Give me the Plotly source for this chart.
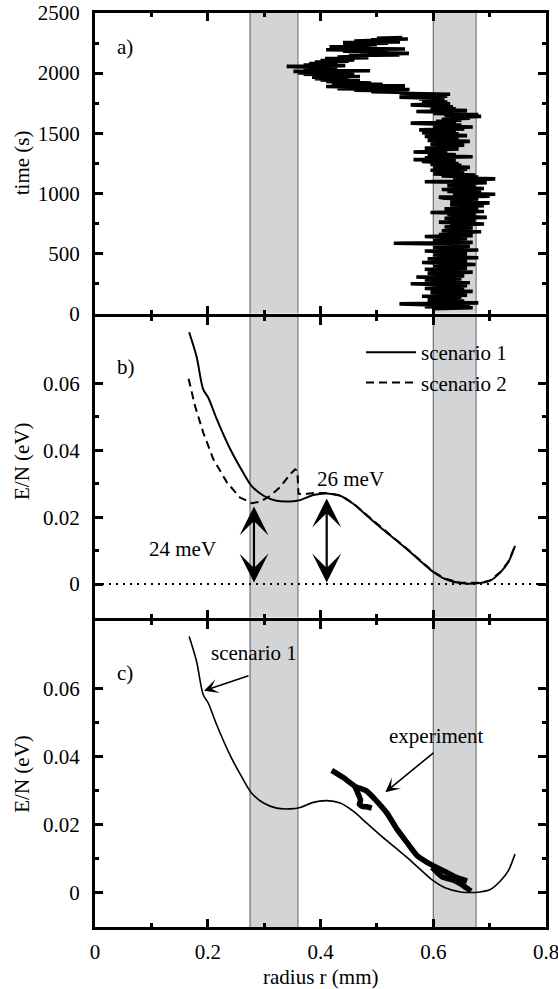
import plotly.graph_objects as go
from plotly.subplots import make_subplots

# ---------------- data ----------------
# panel a: time trace of the radius, (time s, radius mm)
trace_a = [
    (40, 0.60), (48, 0.67), (56, 0.585), (64, 0.665), (72, 0.60), (80, 0.54), (88, 0.68), (96, 0.60),
    (104, 0.655), (112, 0.59), (120, 0.64), (128, 0.605), (136, 0.65), (144, 0.58), (152, 0.66), (160, 0.615),
    (168, 0.645), (176, 0.595), (184, 0.67), (192, 0.60), (200, 0.655), (208, 0.585), (216, 0.64), (224, 0.60),
    (232, 0.66), (240, 0.59), (248, 0.56), (256, 0.665), (264, 0.60), (272, 0.645), (280, 0.585), (288, 0.65),
    (296, 0.605), (304, 0.57), (312, 0.655), (320, 0.60), (328, 0.64), (336, 0.59), (344, 0.67), (352, 0.61),
    (360, 0.645), (368, 0.585), (376, 0.66), (384, 0.61), (392, 0.65), (400, 0.60), (408, 0.675), (416, 0.615),
    (424, 0.58), (432, 0.66), (440, 0.60), (448, 0.655), (456, 0.59), (464, 0.68), (472, 0.61), (480, 0.65),
    (488, 0.60), (496, 0.66), (504, 0.61), (512, 0.64), (520, 0.585), (528, 0.68), (536, 0.615), (544, 0.65),
    (552, 0.60), (560, 0.665), (568, 0.61), (576, 0.64), (584, 0.53), (592, 0.67),
    (600, 0.605), (608, 0.655), (616, 0.60), (624, 0.66), (632, 0.615), (640, 0.585), (648, 0.67), (656, 0.61),
    (664, 0.665), (672, 0.62), (680, 0.685), (688, 0.615), (696, 0.66), (704, 0.625), (712, 0.67), (720, 0.62),
    (728, 0.655), (736, 0.63), (744, 0.69), (752, 0.625), (760, 0.61), (768, 0.675), (776, 0.625), (784, 0.665),
    (792, 0.62), (800, 0.695), (808, 0.63), (816, 0.66), (824, 0.625), (832, 0.675), (840, 0.595), (848, 0.69),
    (856, 0.625), (864, 0.68), (872, 0.62), (880, 0.665), (888, 0.635), (896, 0.69), (904, 0.63), (912, 0.665),
    (920, 0.70), (928, 0.63), (936, 0.675), (944, 0.635), (952, 0.68), (960, 0.62), (968, 0.61), (976, 0.70),
    (984, 0.635), (992, 0.71), (1000, 0.64), (1008, 0.685), (1016, 0.625), (1024, 0.675), (1032, 0.615), (1040, 0.69),
    (1048, 0.635), (1056, 0.675), (1064, 0.625), (1072, 0.665), (1080, 0.64), (1088, 0.695), (1096, 0.585), (1104, 0.655),
    (1112, 0.645), (1120, 0.71), (1128, 0.635), (1136, 0.68), (1144, 0.615), (1152, 0.675), (1160, 0.60), (1168, 0.655),
    (1176, 0.61), (1184, 0.65), (1192, 0.595),
    (1200, 0.66), (1208, 0.60), (1216, 0.665), (1224, 0.61), (1232, 0.65), (1240, 0.595), (1248, 0.645), (1256, 0.60),
    (1264, 0.58), (1272, 0.64), (1280, 0.565), (1288, 0.63), (1296, 0.585), (1304, 0.67), (1312, 0.59), (1320, 0.64),
    (1328, 0.60), (1336, 0.625), (1344, 0.565), (1352, 0.62), (1360, 0.59), (1368, 0.645), (1376, 0.585), (1384, 0.63),
    (1392, 0.60), (1400, 0.655), (1408, 0.595), (1416, 0.64), (1424, 0.60), (1432, 0.665), (1440, 0.59), (1448, 0.645),
    (1456, 0.60), (1464, 0.635), (1472, 0.585), (1480, 0.66), (1488, 0.60), (1496, 0.645), (1504, 0.58), (1512, 0.64),
    (1520, 0.595), (1528, 0.575), (1536, 0.655), (1544, 0.605), (1552, 0.67), (1560, 0.60), (1568, 0.65), (1576, 0.615),
    (1584, 0.56), (1592, 0.64), (1600, 0.605), (1608, 0.65), (1616, 0.615), (1624, 0.665), (1632, 0.625), (1640, 0.685),
    (1648, 0.62), (1656, 0.68), (1664, 0.60), (1672, 0.65), (1680, 0.57), (1688, 0.66), (1696, 0.60), (1704, 0.64),
    (1712, 0.595), (1720, 0.635), (1728, 0.57), (1736, 0.56), (1744, 0.63), (1752, 0.58), (1760, 0.625), (1768, 0.59),
    (1776, 0.62), (1784, 0.575), (1792, 0.60),
    (1800, 0.54), (1808, 0.625), (1816, 0.555), (1824, 0.63), (1832, 0.54), (1840, 0.555), (1846, 0.49), (1852, 0.55),
    (1858, 0.46), (1864, 0.558), (1870, 0.43), (1876, 0.53), (1882, 0.45), (1888, 0.41), (1894, 0.55), (1900, 0.43),
    (1906, 0.51), (1912, 0.42), (1918, 0.49), (1924, 0.43), (1930, 0.41), (1936, 0.47), (1942, 0.40), (1948, 0.45),
    (1954, 0.39), (1960, 0.44), (1966, 0.385), (1972, 0.47), (1978, 0.39), (1984, 0.45), (1990, 0.37), (1996, 0.46),
    (2002, 0.36), (2008, 0.42), (2014, 0.352), (2020, 0.488), (2026, 0.38), (2032, 0.43), (2038, 0.37), (2044, 0.41),
    (2050, 0.36), (2056, 0.34), (2062, 0.444), (2068, 0.37), (2074, 0.43), (2080, 0.38), (2086, 0.42), (2092, 0.39),
    (2098, 0.45), (2104, 0.40), (2110, 0.46), (2116, 0.42), (2122, 0.408), (2128, 0.485), (2134, 0.43), (2140, 0.47),
    (2146, 0.45), (2152, 0.54), (2158, 0.47), (2164, 0.557), (2170, 0.48), (2176, 0.52), (2182, 0.44), (2188, 0.50),
    (2194, 0.41), (2200, 0.55), (2206, 0.43), (2212, 0.488), (2218, 0.416), (2224, 0.47), (2230, 0.44), (2236, 0.50),
    (2242, 0.45), (2248, 0.52), (2254, 0.44), (2260, 0.541), (2266, 0.46), (2272, 0.50), (2278, 0.49), (2284, 0.555),
    (2290, 0.50), (2296, 0.545),
]
time_s = [p[0] for p in trace_a]
radius_a = [p[1] for p in trace_a]

# scenario 1 (panels b and c)
r_s1 = [0.167, 0.180, 0.192, 0.201, 0.216, 0.240, 0.263, 0.278, 0.299, 0.322, 0.346, 0.364, 0.387, 0.411,
        0.435, 0.458, 0.480, 0.506, 0.535, 0.555, 0.575, 0.600, 0.621, 0.648, 0.683, 0.701, 0.719, 0.733, 0.745]
E_s1 = [0.0753, 0.0681, 0.0582, 0.0557, 0.0493, 0.0403, 0.0333, 0.0293, 0.0264, 0.0249, 0.0247, 0.0251, 0.0266, 0.0271,
        0.0264, 0.0240, 0.0208, 0.0170, 0.0130, 0.0102, 0.0072, 0.0036, 0.0015, 0.0003, 0.0003, 0.0010, 0.0035, 0.0065, 0.0114]

# scenario 2 (panel b)
r_s2 = [0.166, 0.1775, 0.192, 0.210, 0.234, 0.257, 0.278, 0.293, 0.311, 0.328, 0.346, 0.355, 0.359, 0.361,
        0.370, 0.387, 0.411, 0.435, 0.458, 0.480, 0.506, 0.535, 0.555, 0.575, 0.600, 0.621, 0.648, 0.683, 0.701, 0.719, 0.733, 0.745]
E_s2 = [0.0614, 0.0532, 0.0453, 0.0373, 0.0304, 0.0259, 0.0242, 0.0246, 0.0264, 0.0289, 0.0328, 0.0343, 0.0338, 0.0270,
        0.0268, 0.0272, 0.0272, 0.0265, 0.0241, 0.0209, 0.0171, 0.0131, 0.0103, 0.0073, 0.0037, 0.0016, 0.0004, 0.0004, 0.0011, 0.0036, 0.0066, 0.0114]

# experiment (panel c), separate strokes split by None
r_exp = [0.420, 0.441, 0.461, 0.482, 0.500, 0.518, 0.535, 0.553, 0.571, 0.589, 0.606, 0.624, 0.642, 0.660, None,
         0.461, 0.467, 0.471, 0.469, 0.474, 0.482, 0.491, None,
         0.598, 0.615, 0.635, 0.650, 0.667]
E_exp = [0.0360, 0.0338, 0.0313, 0.0299, 0.0269, 0.0234, 0.0189, 0.0149, 0.0110, 0.0090, 0.0075, 0.0060, 0.0045, 0.0035, None,
         0.0313, 0.0290, 0.0272, 0.0260, 0.0254, 0.0253, 0.0249, None,
         0.0075, 0.0048, 0.0038, 0.0025, 0.0005]

# shaded radius bands (mm)
bands = [(0.275, 0.360), (0.600, 0.676)]
zero_level = 0.0

# barrier arrows in panel b: (radius, top energy)
barrier_24 = (0.282, 0.0232)
barrier_26 = (0.411, 0.0256)

FONT = "Liberation Serif, Times New Roman, Times, serif"
FS = 21

# plot area at x 95..546, y 13..927 of a 558x989 page (body margin removed below)
W, HT = 558, 989
ML, MR, MT, MB = 95, 12, 13, 62
H = float(HT - MT - MB)      # plot-area height (914)
PW = float(W - ML - MR)      # plot-area width (451)

# ---------------- figure ----------------
fig = make_subplots(rows=3, cols=1, shared_xaxes=False, vertical_spacing=0)

fig.add_trace(go.Scatter(x=radius_a, y=time_s, mode="lines",
                         line=dict(color="black", width=3.6), showlegend=False), row=1, col=1)

fig.add_trace(go.Scatter(x=r_s1, y=E_s1, mode="lines", name="scenario 1",
                         line=dict(color="black", width=2, shape="spline", smoothing=0.9)), row=2, col=1)
fig.add_trace(go.Scatter(x=r_s2, y=E_s2, mode="lines", name="scenario 2",
                         line=dict(color="black", width=2, dash="8px,5px")), row=2, col=1)

fig.add_trace(go.Scatter(x=r_s1, y=E_s1, mode="lines", showlegend=False,
                         line=dict(color="black", width=1.6, shape="spline", smoothing=0.9)), row=3, col=1)
fig.add_trace(go.Scatter(x=r_exp, y=E_exp, mode="lines", showlegend=False, connectgaps=False,
                         line=dict(color="black", width=5.5, shape="spline", smoothing=0.5)), row=3, col=1)

fig.update_layout(
    yaxis=dict(domain=[(927 - 315 + 1.5) / H, 1.0]),
    yaxis2=dict(domain=[(927 - 619 + 1.5) / H, (927 - 315 - 1.5) / H]),
    yaxis3=dict(domain=[0.0, (927 - 619 - 1.5) / H]),
)

axis_common = dict(showline=True, linewidth=3, linecolor="black", mirror="allticks",
                   ticks="inside", ticklen=8, tickwidth=2.5, tickcolor="black",
                   showgrid=False, zeroline=False, automargin=False, ticklabeloverflow="allow",
                   tickfont=dict(family=FONT, size=FS, color="black"))

for i in (1, 2, 3):
    fig.update_xaxes(range=[0, 0.8], tickvals=[0, 0.2, 0.4, 0.6, 0.8],
                     ticktext=["0", "0.2", "0.4", "0.6", "0.8"],
                     showticklabels=(i == 3), ticklabelstandoff=4,
                     minor=dict(tickvals=[0.1, 0.3, 0.5, 0.7], ticks="inside", ticklen=4,
                                tickwidth=2.5, tickcolor="black", showgrid=False),
                     row=i, col=1, **axis_common)

fig.update_yaxes(range=[0, 2500], tickvals=[0, 500, 1000, 1500, 2000, 2500], ticklabelstandoff=8,
                 minor=dict(tickvals=[250, 750, 1250, 1750, 2250], ticks="inside", ticklen=4,
                            tickwidth=2.5, tickcolor="black", showgrid=False),
                 row=1, col=1, **axis_common)
for i in (2, 3):
    fig.update_yaxes(range=[-0.01, 0.08], tickvals=[0, 0.02, 0.04, 0.06],
                     ticktext=["0", "0.02", "0.04", "0.06"], ticklabelstandoff=8,
                     minor=dict(tickvals=[0.01, 0.03, 0.05], ticks="inside", ticklen=4,
                                tickwidth=2.5, tickcolor="black", showgrid=False),
                     row=i, col=1, **axis_common)

shapes = []
for yref, xr in (("y domain", "x"), ("y2 domain", "x2"), ("y3 domain", "x3")):
    for (b0, b1) in bands:
        shapes.append(dict(type="rect", xref=xr, yref=yref, x0=b0, x1=b1, y0=0, y1=1,
                           fillcolor="#d3d4d6", line=dict(width=0), layer="below"))
        shapes.append(dict(type="line", xref=xr, yref=yref, x0=b0, x1=b0, y0=0, y1=1,
                           line=dict(color="#555555", width=1), layer="below"))
        shapes.append(dict(type="line", xref=xr, yref=yref, x0=b1, x1=b1, y0=0, y1=1,
                           line=dict(color="#7a7a7a", width=1.2), layer="below"))
shapes.append(dict(type="line", xref="x2 domain", yref="y2", x0=0, x1=1, y0=zero_level, y1=zero_level,
                   line=dict(color="black", width=2, dash="2px,5px"), layer="above"))
fig.update_layout(shapes=shapes)

ann = []
tf = dict(family=FONT, size=FS, color="black")
ann.append(dict(x=0.035, y=2219, xref="x", yref="y", text="a)", showarrow=False, xanchor="left", font=tf))
ann.append(dict(x=0.035, y=0.0648, xref="x2", yref="y2", text="b)", showarrow=False, xanchor="left", font=tf))
ann.append(dict(x=0.035, y=0.0645, xref="x3", yref="y3", text="c)", showarrow=False, xanchor="left", font=tf))
ann.append(dict(x=0.155, y=0.0104, xref="x2", yref="y2", text="24 meV", showarrow=False, font=tf))
ann.append(dict(x=0.454, y=0.0313, xref="x2", yref="y2", text="26 meV", showarrow=False, font=tf))

for (rx, top) in (barrier_24, barrier_26):
    ann.append(dict(x=rx, y=top, xref="x2", yref="y2", ax=rx, ay=zero_level, axref="x2", ayref="y2",
                    text="", showarrow=True, arrowhead=3, arrowsize=2.2, arrowwidth=2.2,
                    startarrowhead=3, startarrowsize=2.2, arrowside="end+start",
                    arrowcolor="black", standoff=0, startstandoff=0))

ann.append(dict(x=0.282, y=0.0704, xref="x3", yref="y3", text="scenario 1", showarrow=False, font=tf))
ann.append(dict(x=0.1934, y=0.0594, xref="x3", yref="y3", ax=0.275, ay=0.0639, axref="x3", ayref="y3",
                text="", showarrow=True, arrowhead=3, arrowsize=1.5, arrowwidth=1.6, arrowcolor="black", standoff=0))
ann.append(dict(x=0.605, y=0.046, xref="x3", yref="y3", text="experiment", showarrow=False, font=tf))
ann.append(dict(x=0.515, y=0.0296, xref="x3", yref="y3", ax=0.603, ay=0.0415, axref="x3", ayref="y3",
                text="", showarrow=True, arrowhead=3, arrowsize=1.5, arrowwidth=1.6, arrowcolor="black", standoff=0))

xt = -(95 - 22) / PW
ann.append(dict(x=xt, y=0.5, xref="paper", yref="y domain", text="time (s)", textangle=-90,
                showarrow=False, font=tf, xanchor="center", yanchor="middle"))
ann.append(dict(x=xt, y=0.52, xref="paper", yref="y2 domain", text="E/N (eV)", textangle=-90,
                showarrow=False, font=tf, xanchor="center", yanchor="middle"))
ann.append(dict(x=xt, y=0.5, xref="paper", yref="y3 domain", text="E/N (eV)", textangle=-90,
                showarrow=False, font=tf, xanchor="center", yanchor="middle"))
ann.append(dict(x=0.5, y=-(977 - 927) / H, xref="x3 domain", yref="paper", text="radius r (mm)",
                showarrow=False, font=tf, xanchor="center", yanchor="middle"))
fig.update_layout(annotations=ann)

fig.update_layout(
    template="none",
    width=W, height=HT,
    margin=dict(l=ML, r=MR, t=MT, b=MB),
    paper_bgcolor="white", plot_bgcolor="white",
    font=dict(family=FONT, size=FS, color="black"),
    showlegend=True,
    legend=dict(x=(361 - 95) / PW, y=(927 - 332) / H, xanchor="left", yanchor="top",
                bgcolor="rgba(0,0,0,0)", borderwidth=0, font=dict(family=FONT, size=FS, color="black"),
                itemwidth=50, tracegroupgap=0),
)

fig.write_html("out.html", config={"displayModeBar": False},
               post_script="document.body.style.margin='0px'; document.body.style.overflow='hidden';")
